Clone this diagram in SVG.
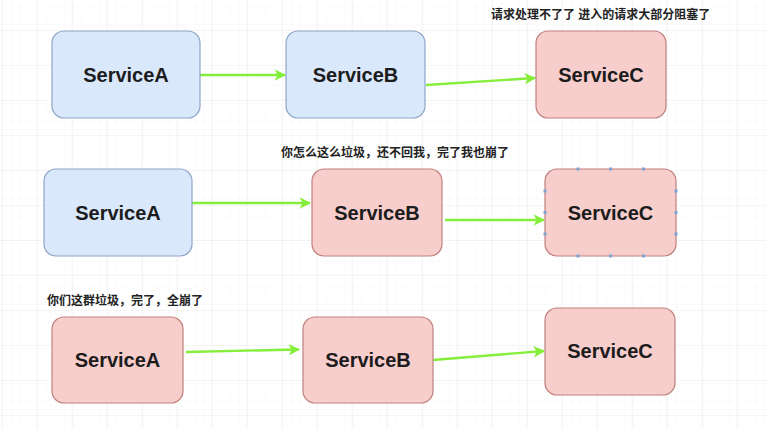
<svg xmlns="http://www.w3.org/2000/svg" width="766" height="429" viewBox="0 0 766 429">
<defs>
<pattern id="minor" x="1.7" y="30" width="8.75" height="8.75" patternUnits="userSpaceOnUse">
<path d="M8.75 0V8.75M0 8.75H8.75" fill="none" stroke="#f4f4f4" stroke-width="0.8"/>
</pattern>
<pattern id="major" x="1.7" y="30" width="35" height="35" patternUnits="userSpaceOnUse">
<rect width="35" height="35" fill="url(#minor)"/>
<path d="M0 0V35M0 0H35" fill="none" stroke="#e9e9e9" stroke-width="1"/>
</pattern>
<marker id="arr" viewBox="0 0 10 10" refX="9" refY="5" markerWidth="5" markerHeight="5" markerUnits="strokeWidth" orient="auto">
<path d="M0 0L10 5L0 10L2.5 5Z" fill="#84ee3a"/>
</marker>
<style>
.blue > rect{fill:#dae8fc;stroke:#8ea6c8;stroke-width:1.2}
.red > rect{fill:#f8cecc;stroke:#c0807e;stroke-width:1.2}
.lbl{font-family:"Liberation Sans",Arial,sans-serif;font-weight:bold;font-size:20px;fill:#1c1c1c;text-anchor:middle}
.note{font-family:"Liberation Sans","Noto Sans CJK SC",sans-serif;font-weight:bold;font-size:12px;fill:#222}
.edge{fill:none;stroke:#84ee3a;stroke-width:2.3;marker-end:url(#arr)}
.h rect{fill:#7aa3d8;stroke:none}
</style>
</defs>
<rect width="766" height="429" fill="#ffffff"/>
<rect width="766" height="429" fill="url(#major)"/>

<text class="note" x="491" y="19">请求处理不了了 进入的请求大部分阻塞了</text>
<text class="note" x="281" y="157">你怎么这么垃圾，还不回我，完了我也崩了</text>
<text class="note" x="47" y="305">你们这群垃圾，完了，全崩了</text>

<g id="connectors">
<path class="edge" d="M200 75H285"/>
<path class="edge" d="M426 85L535 78"/>
<path class="edge" d="M192 203H310"/>
<path class="edge" d="M445 220H544"/>
<path class="edge" d="M186 352L299 349.5"/>
<path class="edge" d="M433 360L544 351"/>
</g>

<g id="A1" class="blue"><rect x="52" y="31" width="148" height="87" rx="12"/><text class="lbl" x="126" y="82">ServiceA</text></g>
<g id="B1" class="blue"><rect x="286" y="31" width="139" height="87" rx="12"/><text class="lbl" x="355.5" y="82">ServiceB</text></g>
<g id="C1" class="red"><rect x="536" y="31" width="130" height="87" rx="12"/><text class="lbl" x="601" y="82">ServiceC</text></g>

<g id="A2" class="blue"><rect x="44" y="169" width="148" height="87" rx="12"/><text class="lbl" x="118" y="220">ServiceA</text></g>
<g id="B2" class="red"><rect x="312" y="169" width="130" height="87" rx="12"/><text class="lbl" x="377" y="220">ServiceB</text></g>
<g id="C2" class="red"><rect x="545" y="169" width="131" height="87" rx="12"/><text class="lbl" x="610.5" y="220">ServiceC</text>
<g class="h">
<rect x="576.5" y="167.5" width="3" height="3"/><rect x="609" y="167.5" width="3" height="3"/><rect x="642" y="167.5" width="3" height="3"/>
<rect x="576.5" y="254.5" width="3" height="3"/><rect x="609" y="254.5" width="3" height="3"/><rect x="642" y="254.5" width="3" height="3"/>
<rect x="543.5" y="189.5" width="3" height="3"/><rect x="543.5" y="211" width="3" height="3"/><rect x="543.5" y="232.5" width="3" height="3"/>
<rect x="674.5" y="189.5" width="3" height="3"/><rect x="674.5" y="211" width="3" height="3"/><rect x="674.5" y="232.5" width="3" height="3"/>
</g></g>

<g id="A3" class="red"><rect x="52" y="317" width="131" height="86" rx="12"/><text class="lbl" x="117.5" y="367">ServiceA</text></g>
<g id="B3" class="red"><rect x="303" y="317" width="130" height="86" rx="12"/><text class="lbl" x="368" y="367">ServiceB</text></g>
<g id="C3" class="red"><rect x="545" y="308" width="130" height="87" rx="12"/><text class="lbl" x="610" y="358">ServiceC</text></g>
</svg>
